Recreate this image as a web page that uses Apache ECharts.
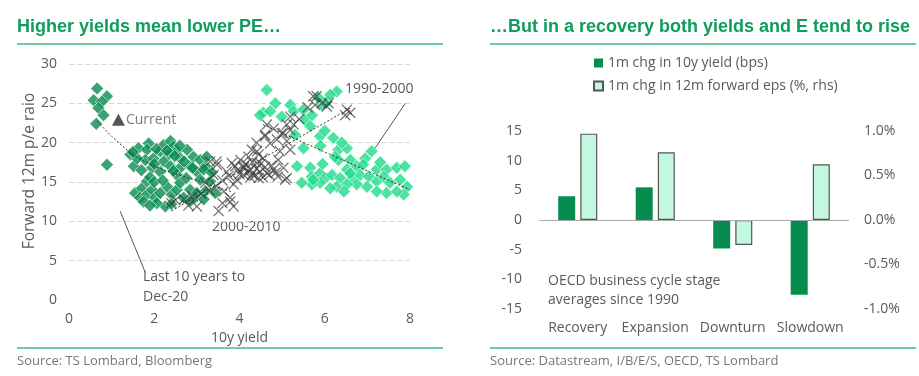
<!DOCTYPE html>
<html>
<head>
<meta charset="utf-8">
<script src="https://cdn.jsdelivr.net/npm/echarts@6/dist/echarts.min.js"></script>
<style>
  html, body { margin: 0; padding: 0; background: #fff; }
  #chart { width: 919px; height: 376px; }
</style>
</head>
<body>
<div id="chart"></div>
<script>
// left panel: 10y yield vs forward PE
var last10y = [
  [0.66, 26.9], [0.89, 25.9], [0.58, 25.4], [0.77, 25.2], [0.69, 24.4], [0.81, 23.5], [0.64, 22.4], [0.89, 17.2],
  [1.44, 18.5], [1.63, 19.3], [1.87, 19.9], [1.83, 19.1], [1.52, 17.0], [1.79, 17.8], [1.98, 18.0], [1.95, 16.8],
  [2.14, 18.9], [2.22, 19.7], [2.38, 20.2], [2.45, 19.5], [2.53, 18.9], [2.34, 18.5], [2.61, 18.0], [2.77, 19.1],
  [2.92, 18.2], [3.08, 17.8], [2.22, 17.6], [2.38, 17.0], [2.14, 16.3], [2.61, 16.8], [2.84, 17.0], [3.0, 16.3],
  [3.2, 17.0], [3.23, 18.2], [2.53, 15.9], [1.55, 13.6], [1.71, 14.2], [1.83, 15.1], [1.67, 13.0], [1.83, 13.4],
  [1.95, 14.0], [2.02, 13.0], [2.14, 13.6], [2.26, 11.9], [2.30, 14.4], [2.41, 13.4], [2.53, 14.0], [2.61, 14.9],
  [2.69, 13.0], [2.84, 14.0], [2.96, 13.0], [3.08, 15.3], [3.2, 13.8], [2.06, 12.3], [3.16, 16.6], [3.31, 15.1],
  [3.43, 13.6], [3.16, 12.8], [3.0, 13.6], [1.60, 18.0], [1.70, 16.5], [2.05, 19.2], [2.30, 19.0], [2.48, 18.3],
  [2.70, 17.6], [2.90, 16.8], [2.45, 16.4], [1.90, 15.6], [2.00, 15.0], [2.20, 15.2], [2.75, 15.5], [1.75, 12.5],
  [1.90, 12.0], [2.40, 12.2], [2.85, 12.6], [3.35, 16.2], [1.50, 18.8], [2.60, 19.6], [2.00, 17.3]
];
var y2000s = [
  [3.51, 11.3], [3.86, 11.9], [3.78, 13.0], [3.63, 13.8], [3.47, 17.2], [3.31, 17.6], [3.82, 17.4], [4.02, 17.8],
  [4.21, 18.2], [4.29, 19.1], [4.10, 17.0], [4.25, 16.6], [4.41, 17.4], [4.48, 16.3], [4.64, 16.1], [4.80, 16.6],
  [4.91, 17.8], [5.11, 15.5], [4.60, 21.0], [4.72, 19.9], [4.88, 20.4], [5.03, 21.2], [5.19, 21.6], [4.64, 22.3],
  [3.94, 15.3], [4.10, 15.9], [3.70, 16.3], [3.39, 15.9], [3.86, 14.7], [3.2, 14.9], [5.81, 25.9], [5.93, 25.0],
  [6.09, 25.0], [5.77, 24.8], [5.73, 25.9], [6.52, 24.2], [6.60, 23.8], [6.48, 23.5], [5.19, 23.3], [5.11, 22.3],
  [5.27, 22.3], [4.99, 21.2], [4.60, 20.8], [5.11, 20.2], [5.19, 19.1], [4.95, 18.9], [4.41, 18.9], [5.07, 15.3],
  [5.03, 16.8], [6.05, 24.6], [4.0, 16.0], [4.1, 16.8], [4.2, 16.2], [4.3, 17.5], [4.35, 15.8], [4.4, 16.7],
  [4.5, 17.3], [4.55, 15.6], [4.6, 16.9], [4.7, 15.9], [4.75, 17.1], [4.85, 16.2], [4.9, 15.7], [4.15, 17.3],
  [4.25, 15.6], [3.95, 16.5], [3.9, 17.0], [3.75, 15.8], [3.6, 15.2], [3.45, 14.5], [3.3, 13.9], [3.1, 13.5],
  [2.9, 13.2], [2.7, 12.8], [2.5, 12.7], [2.8, 12.0], [3.0, 11.9], [3.6, 12.3], [4.3, 16.0], [4.45, 15.5],
  [3.46, 17.6], [3.78, 12.5], [2.4, 12.3], [4.55, 18.0], [4.45, 18.5], [5.4, 23.0], [5.6, 24.5], [4.8, 21.8],
  [4.4, 20.0]
];
var y1990s = [
  [4.64, 26.7], [4.84, 25.0], [4.56, 23.8], [4.72, 24.0], [4.99, 23.3], [5.19, 24.8], [5.27, 24.0], [5.50, 24.2],
  [5.54, 22.9], [5.70, 23.5], [5.66, 22.1], [5.89, 20.8], [5.50, 19.3], [6.2, 20.6], [6.28, 26.5], [5.93, 24.8],
  [6.05, 25.2], [6.13, 26.1], [5.85, 25.7], [6.32, 19.1], [6.52, 19.3], [6.32, 17.8], [6.24, 18.2], [6.95, 18.0],
  [7.10, 18.9], [6.6, 17.8], [6.75, 17.0], [7.22, 16.6], [7.45, 16.6], [7.69, 16.8], [7.88, 17.0], [5.35, 17.0],
  [5.66, 16.8], [5.70, 15.7], [5.89, 16.1], [6.01, 15.5], [6.17, 15.9], [6.36, 15.5], [6.52, 16.6], [6.64, 15.5],
  [6.83, 15.9], [7.03, 15.7], [7.22, 15.1], [7.38, 15.7], [7.53, 14.9], [7.77, 15.3], [7.93, 14.4], [7.85, 13.4],
  [7.45, 13.6], [7.22, 13.8], [6.99, 14.4], [6.75, 14.7], [6.52, 14.7], [6.28, 14.4], [6.13, 14.2], [5.89, 14.9],
  [5.70, 14.7], [5.46, 14.9], [5.73, 15.3], [7.69, 13.8], [6.60, 16.1], [4.48, 23.5], [6.0, 21.5], [6.4, 20.0],
  [5.3, 21.0], [5.9, 19.6], [6.9, 17.2], [7.3, 17.5], [5.95, 17.3], [6.45, 13.8]
];
var currentPt = [[1.16, 22.9]];
// dotted trend lines
var trendLast10 = [[0.66, 22.7], [1.0, 20.8], [1.5, 18.4], [2.0, 17.0], [2.5, 16.0], [3.0, 15.2], [3.5, 14.3], [3.8, 13.8]];
var trend2000s = [[2.4, 11.3], [6.6, 24.4]];
var trend1990s = [[4.55, 22.3], [8.0, 14.0]];
// leader lines for the labels
var leaderLast10 = [[1.2, 11.3], [1.79, 3.5]];
var leader1990s = [[7.89, 25.0], [7.18, 19.3]];

// right panel: OECD cycle stages
var stages = ['Recovery', 'Expansion', 'Downturn', 'Slowdown'];
var yieldChg = [4.0, 5.5, -4.8, -12.6];
var epsChg = [0.97, 0.76, -0.28, 0.625];

var FONT = '"Open Sans", Roboto, sans-serif';
var TXT = '#5a5a5a';
var DARK = '#078c50';
var BRIGHT = '#1fdb8b';
var RULE = '#6ccc9e';

var chart = echarts.init(document.getElementById('chart'));

// thin "x" marker
var crossPath = 'path://M0,0.8 L0.8,0 L5,4.2 L9.2,0 L10,0.8 L5.8,5 L10,9.2 L9.2,10 L5,5.8 L0.8,10 L0,9.2 L4.2,5 Z';

function dotted(data) {
  return {
    type: 'line', xAxisIndex: 0, yAxisIndex: 0, data: data, symbol: 'none', silent: true, z: 5,
    lineStyle: { color: '#333', width: 1, type: [2, 2] }
  };
}
function leader(data) {
  return {
    type: 'line', xAxisIndex: 0, yAxisIndex: 0, data: data, symbol: 'none', silent: true, z: 5,
    lineStyle: { color: '#555', width: 1 }
  };
}

var option = {
  animation: false,
  textStyle: { fontFamily: FONT },
  grid: [
    { left: 69, top: 64, width: 341, height: 236 },
    { left: 539, top: 131, width: 310, height: 178 }
  ],
  legend: {
    left: 588, top: 51, orient: 'vertical', itemWidth: 9, itemHeight: 9, itemGap: 9,
    icon: 'rect',
    textStyle: { color: TXT, fontSize: 14, fontFamily: FONT },
    data: ['1m chg in 10y yield (bps)', '1m chg in 12m forward eps (%, rhs)']
  },
  xAxis: [
    {
      gridIndex: 0, type: 'value', min: 0, max: 8, interval: 2,
      axisLine: { show: false }, axisTick: { show: false }, splitLine: { show: false },
      axisLabel: { color: TXT, fontSize: 14, margin: 12 },
      name: '10y yield', nameLocation: 'middle', nameGap: 31,
      nameTextStyle: { color: TXT, fontSize: 14 }
    },
    {
      gridIndex: 1, type: 'category', data: stages,
      axisLine: { show: false }, axisTick: { show: false },
      axisLabel: { color: TXT, fontSize: 14, margin: 12, interval: 0 }
    }
  ],
  yAxis: [
    {
      gridIndex: 0, type: 'value', min: 0, max: 30, interval: 5,
      axisLine: { show: false }, axisTick: { show: false },
      axisLabel: { color: TXT, fontSize: 14, margin: 12 },
      splitLine: { show: true, showMinLine: false, lineStyle: { color: '#d6d6d6', type: [5, 3] } }
    },
    {
      gridIndex: 1, type: 'value', min: -15, max: 15, interval: 5,
      axisLine: { show: false }, axisTick: { show: false }, splitLine: { show: false },
      axisLabel: { color: TXT, fontSize: 14, margin: 17 }
    },
    {
      gridIndex: 1, type: 'value', min: -1, max: 1, interval: 0.5, position: 'right',
      axisLine: { show: false }, axisTick: { show: false }, splitLine: { show: false },
      axisLabel: { color: TXT, fontSize: 14, margin: 15, formatter: function (v) { return v.toFixed(1) + '%'; } }
    }
  ],
  series: [
    {
      name: '1990-2000', type: 'scatter', xAxisIndex: 0, yAxisIndex: 0, data: y1990s,
      symbol: 'diamond', symbolSize: 13, z: 2,
      itemStyle: { color: BRIGHT, borderColor: '#fff', borderWidth: 0.8 }
    },
    {
      name: 'Last 10 years', type: 'scatter', xAxisIndex: 0, yAxisIndex: 0, data: last10y,
      symbol: 'diamond', symbolSize: 13, z: 3,
      itemStyle: { color: DARK, borderColor: '#fff', borderWidth: 0.8 }
    },
    {
      name: '2000-2010', type: 'scatter', xAxisIndex: 0, yAxisIndex: 0, data: y2000s,
      symbol: crossPath, symbolSize: 11, z: 4,
      itemStyle: { color: 'rgba(50,50,50,0.85)' }
    },
    {
      name: 'Current', type: 'scatter', xAxisIndex: 0, yAxisIndex: 0, data: currentPt,
      symbol: 'triangle', symbolSize: [13, 12], z: 6,
      itemStyle: { color: '#2a2a2a' },
      label: { show: true, position: 'right', distance: 1, formatter: 'Current', color: TXT, fontSize: 14 }
    },
    dotted(trendLast10),
    dotted(trend2000s),
    dotted(trend1990s),
    leader(leaderLast10),
    leader(leader1990s),
    {
      name: '1m chg in 10y yield (bps)', type: 'bar', xAxisIndex: 1, yAxisIndex: 1, data: yieldChg,
      barWidth: 17, barGap: '30%',
      itemStyle: { color: DARK },
      markLine: {
        silent: true, symbol: 'none', label: { show: false },
        lineStyle: { color: '#aaa', width: 1, type: 'solid' },
        data: [{ yAxis: 0 }]
      }
    },
    {
      name: '1m chg in 12m forward eps (%, rhs)', type: 'bar', xAxisIndex: 1, yAxisIndex: 2, data: epsChg,
      barWidth: 17, barGap: '30%',
      itemStyle: { color: '#c4f7e0', borderColor: '#555', borderWidth: 1.2 }
    }
  ],
  graphic: [
    { type: 'text', left: 17, top: 18, style: { text: 'Higher yields mean lower PE…', fill: '#109c5c', font: 'bold 18px "Liberation Sans", Arial, sans-serif' } },
    { type: 'text', left: 490, top: 18, style: { text: '…But in a recovery both yields and E tend to rise', fill: '#109c5c', font: 'bold 18px "Liberation Sans", Arial, sans-serif' } },
    { type: 'line', shape: { x1: 17, y1: 44, x2: 443, y2: 44 }, style: { stroke: RULE, lineWidth: 2 } },
    { type: 'line', shape: { x1: 490, y1: 44, x2: 916, y2: 44 }, style: { stroke: RULE, lineWidth: 2 } },
    { type: 'line', shape: { x1: 17, y1: 348, x2: 443, y2: 348 }, style: { stroke: RULE, lineWidth: 2 } },
    { type: 'line', shape: { x1: 490, y1: 348, x2: 916, y2: 348 }, style: { stroke: RULE, lineWidth: 2 } },
    {
      type: 'text', x: 30, y: 171, rotation: Math.PI / 2,
      style: { text: 'Forward 12m p/e raio', fill: TXT, font: '15.5px "Open Sans", sans-serif', align: 'center', verticalAlign: 'middle' }
    },
    { type: 'text', left: 17, top: 355, style: { text: 'Source: TS Lombard, Bloomberg', fill: '#777', font: '13px "Open Sans", sans-serif' } },
    { type: 'text', left: 490, top: 355, style: { text: 'Source: Datastream, I/B/E/S, OECD, TS Lombard', fill: '#777', font: '13px "Open Sans", sans-serif' } },
    { type: 'text', left: 345, top: 82, style: { text: '1990-2000', fill: TXT, font: '14px "Open Sans", sans-serif' } },
    { type: 'text', left: 212, top: 220, style: { text: '2000-2010', fill: TXT, font: '14px "Open Sans", sans-serif' } },
    { type: 'text', left: 143, top: 267, style: { text: 'Last 10 years to\nDec-20', fill: TXT, font: '14px "Open Sans", sans-serif', lineHeight: 20 } },
    { type: 'text', left: 548, top: 272, style: { text: 'OECD business cycle stage\naverages since 1990', fill: TXT, font: '14px "Open Sans", sans-serif', lineHeight: 19 } }
  ]
};

chart.setOption(option);
</script>
</body>
</html>
